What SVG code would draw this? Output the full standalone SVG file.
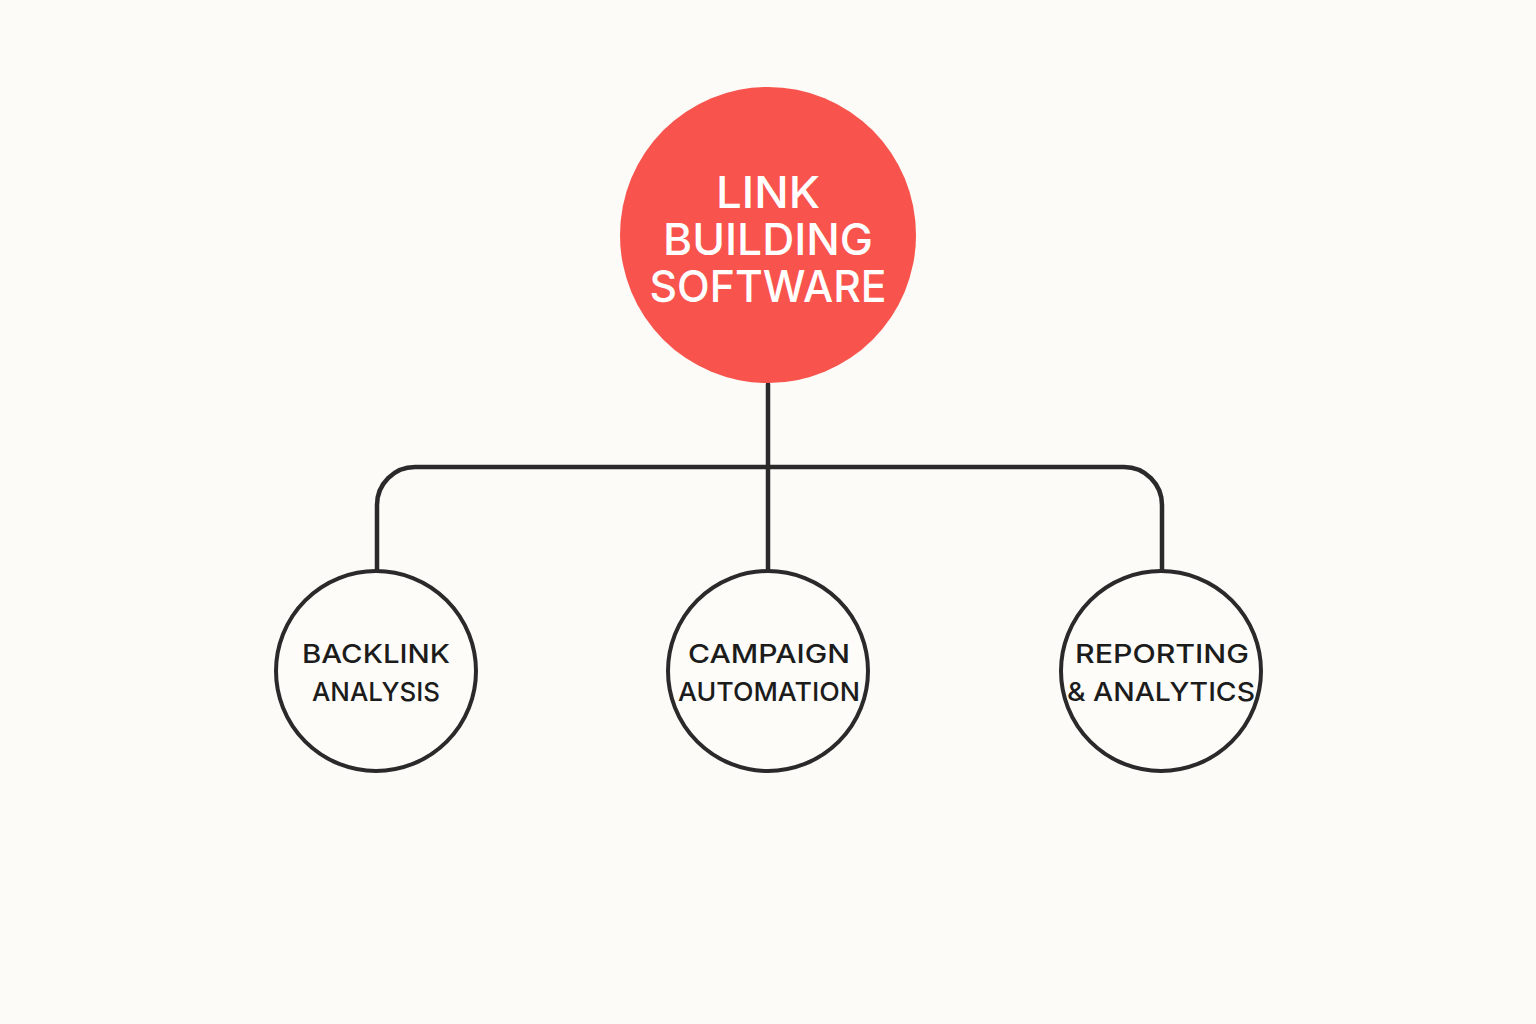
<svg xmlns="http://www.w3.org/2000/svg" width="1536" height="1024" viewBox="0 0 1536 1024">
  <style>
    .conn { fill: none; stroke: #2a2a2a; stroke-width: 4.5; stroke-linecap: round; }
    .sub { fill: #fdfcf9; stroke: #2a2a2a; stroke-width: 4; }
    .subtxt { font-family: Inter, "Liberation Sans", Arial, sans-serif; font-weight: 500; font-size: 26px; fill: #1c1c1c; text-anchor: middle; }
    .maintxt { font-family: Inter, "Liberation Sans", Arial, sans-serif; font-weight: 500; font-size: 44px; fill: #ffffff; text-anchor: middle; }
  </style>
  <rect width="1536" height="1024" fill="#fcfbf8"/>
  <g id="connectors">
    <line class="conn" x1="768" y1="384" x2="768" y2="570"/>
    <path class="conn" d="M377 570 V505 A38 38 0 0 1 415 467 H1124 A38 38 0 0 1 1162 505 V570"/>
  </g>
  <g id="node-main">
    <circle cx="768" cy="235" r="148" fill="#f8534d"/>
    <text class="maintxt" x="768" y="208" textLength="104" lengthAdjust="spacingAndGlyphs">LINK</text>
    <text class="maintxt" x="768" y="255" textLength="210" lengthAdjust="spacingAndGlyphs">BUILDING</text>
    <text class="maintxt" x="768" y="302" textLength="237" lengthAdjust="spacingAndGlyphs">SOFTWARE</text>
  </g>
  <g id="node-backlink">
    <circle class="sub" cx="376" cy="671" r="100"/>
    <text class="subtxt" x="376" y="663" textLength="148" lengthAdjust="spacingAndGlyphs">BACKLINK</text>
    <text class="subtxt" x="376" y="701" textLength="128" lengthAdjust="spacingAndGlyphs">ANALYSIS</text>
  </g>
  <g id="node-campaign">
    <circle class="sub" cx="768" cy="671" r="100"/>
    <text class="subtxt" x="769" y="663" textLength="162" lengthAdjust="spacingAndGlyphs">CAMPAIGN</text>
    <text class="subtxt" x="769" y="701" textLength="182" lengthAdjust="spacingAndGlyphs">AUTOMATION</text>
  </g>
  <g id="node-reporting">
    <circle class="sub" cx="1161" cy="671" r="100"/>
    <text class="subtxt" x="1162" y="663" textLength="174" lengthAdjust="spacingAndGlyphs">REPORTING</text>
    <text class="subtxt" x="1161" y="701" textLength="188" lengthAdjust="spacingAndGlyphs">&amp; ANALYTICS</text>
  </g>
</svg>
